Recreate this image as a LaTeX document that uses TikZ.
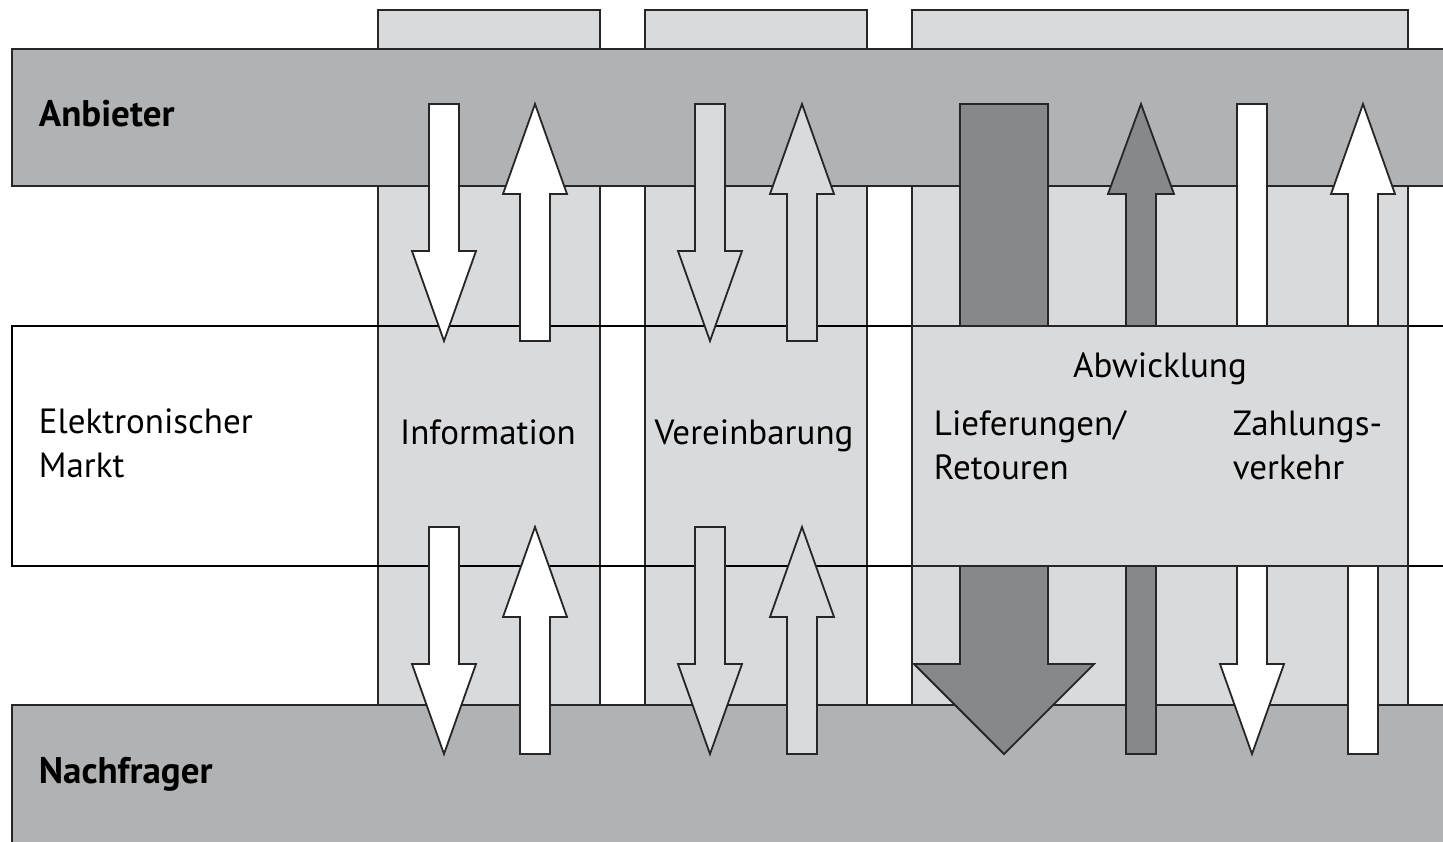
\documentclass[tikz,border=0pt]{standalone}
\usepackage{fontspec}
\setmainfont{PT Sans}
\usetikzlibrary{positioning}

\definecolor{colgray}{HTML}{D9DADC}
\definecolor{bandgray}{HTML}{B1B2B4}
\definecolor{arrowdark}{HTML}{87888A}

% #1 style, #2 x, #3 tail y, #4 head base y, #5 tip y, #6 half shaft, #7 half head
\newcommand{\flowarrow}[7]{%
  \draw[#1] ({#2-#6},#3) -- ({#2+#6},#3) -- ({#2+#6},#4) -- ({#2+#7},#4)
    -- (#2,#5) -- ({#2-#7},#4) -- ({#2-#6},#4) -- cycle;}

\begin{document}
\begin{tikzpicture}[x=1pt, y=-1pt, line width=1.8pt, line join=miter,
    column/.style={draw=black!85, fill=colgray},
    band/.style={draw=black!85, fill=bandgray},
    whitearr/.style={draw=black!85, fill=white},
    lightarr/.style={draw=black!85, fill=colgray},
    darkarr/.style={draw=black!85, fill=arrowdark},
    lbl/.style={inner sep=0pt, font=\fontsize{35}{44}\selectfont},
    head/.style={inner sep=0pt, font=\fontsize{37}{44}\selectfont\bfseries}]
  \clip (0,0) rectangle (1443,841);
  \fill[white] (0,0) rectangle (1443,841);

  % columns
  \draw[column] (378,10) rectangle (600,705);
  \draw[column] (645,10) rectangle (867,705);
  \draw[column] (912,10) rectangle (1408,705);

  % bands
  \draw[band] (12,49) rectangle (1470,186);
  \draw[band] (12,705) rectangle (1470,870);
  \draw (1470,326) -- (12,326) -- (12,566) -- (1470,566);

  % Information
  \flowarrow{whitearr}{444}{104}{251}{341}{15}{32}
  \flowarrow{whitearr}{535}{341}{194}{104}{15}{32}
  \flowarrow{whitearr}{444}{527}{664}{754}{15}{32}
  \flowarrow{whitearr}{535}{754}{617}{527}{15}{32}

  % Vereinbarung
  \flowarrow{lightarr}{710}{104}{251}{341}{15}{32}
  \flowarrow{lightarr}{802}{341}{194}{104}{15}{32}
  \flowarrow{lightarr}{710}{527}{664}{754}{15}{32}
  \flowarrow{lightarr}{802}{754}{617}{527}{15}{32}

  % Abwicklung
  \flowarrow{darkarr}{1004}{104}{664}{754}{44}{90}
  \flowarrow{darkarr}{1141}{754}{194}{104}{15}{33}
  \flowarrow{whitearr}{1252}{104}{664}{754}{15}{32}
  \flowarrow{whitearr}{1363}{754}{194}{104}{15}{32}
  \draw[column] (912,326) rectangle (1408,566);

  % labels
  \node[head, anchor=base west] (anbieter) at (38,126) {Anbieter};
  \node[head, anchor=base west] (nachfrager) at (38,783) {Nachfrager};
  \node[lbl, anchor=base west] (elek) at (38,433) {Elektronischer};
  \node[lbl, anchor=base west] (markt) at ([yshift=-44pt]elek.base west) {Markt};
  \node[lbl, anchor=base] (info) at (488,444) {Information};
  \node[lbl, anchor=base] (verein) at (754,444) {Vereinbarung};
  \node[lbl, anchor=base] (abw) at (1160,377) {Abwicklung};
  \node[lbl, anchor=base west] (liefer) at (933,435) {Lieferungen/};
  \node[lbl, anchor=base west] (retour) at ([yshift=-44pt]liefer.base west) {Retouren};
  \node[lbl, anchor=base west] (zahl) at (1232,435) {Zahlungs-};
  \node[lbl, anchor=base west] (verkehr) at ([yshift=-44pt]zahl.base west) {verkehr};
\end{tikzpicture}
\end{document}
